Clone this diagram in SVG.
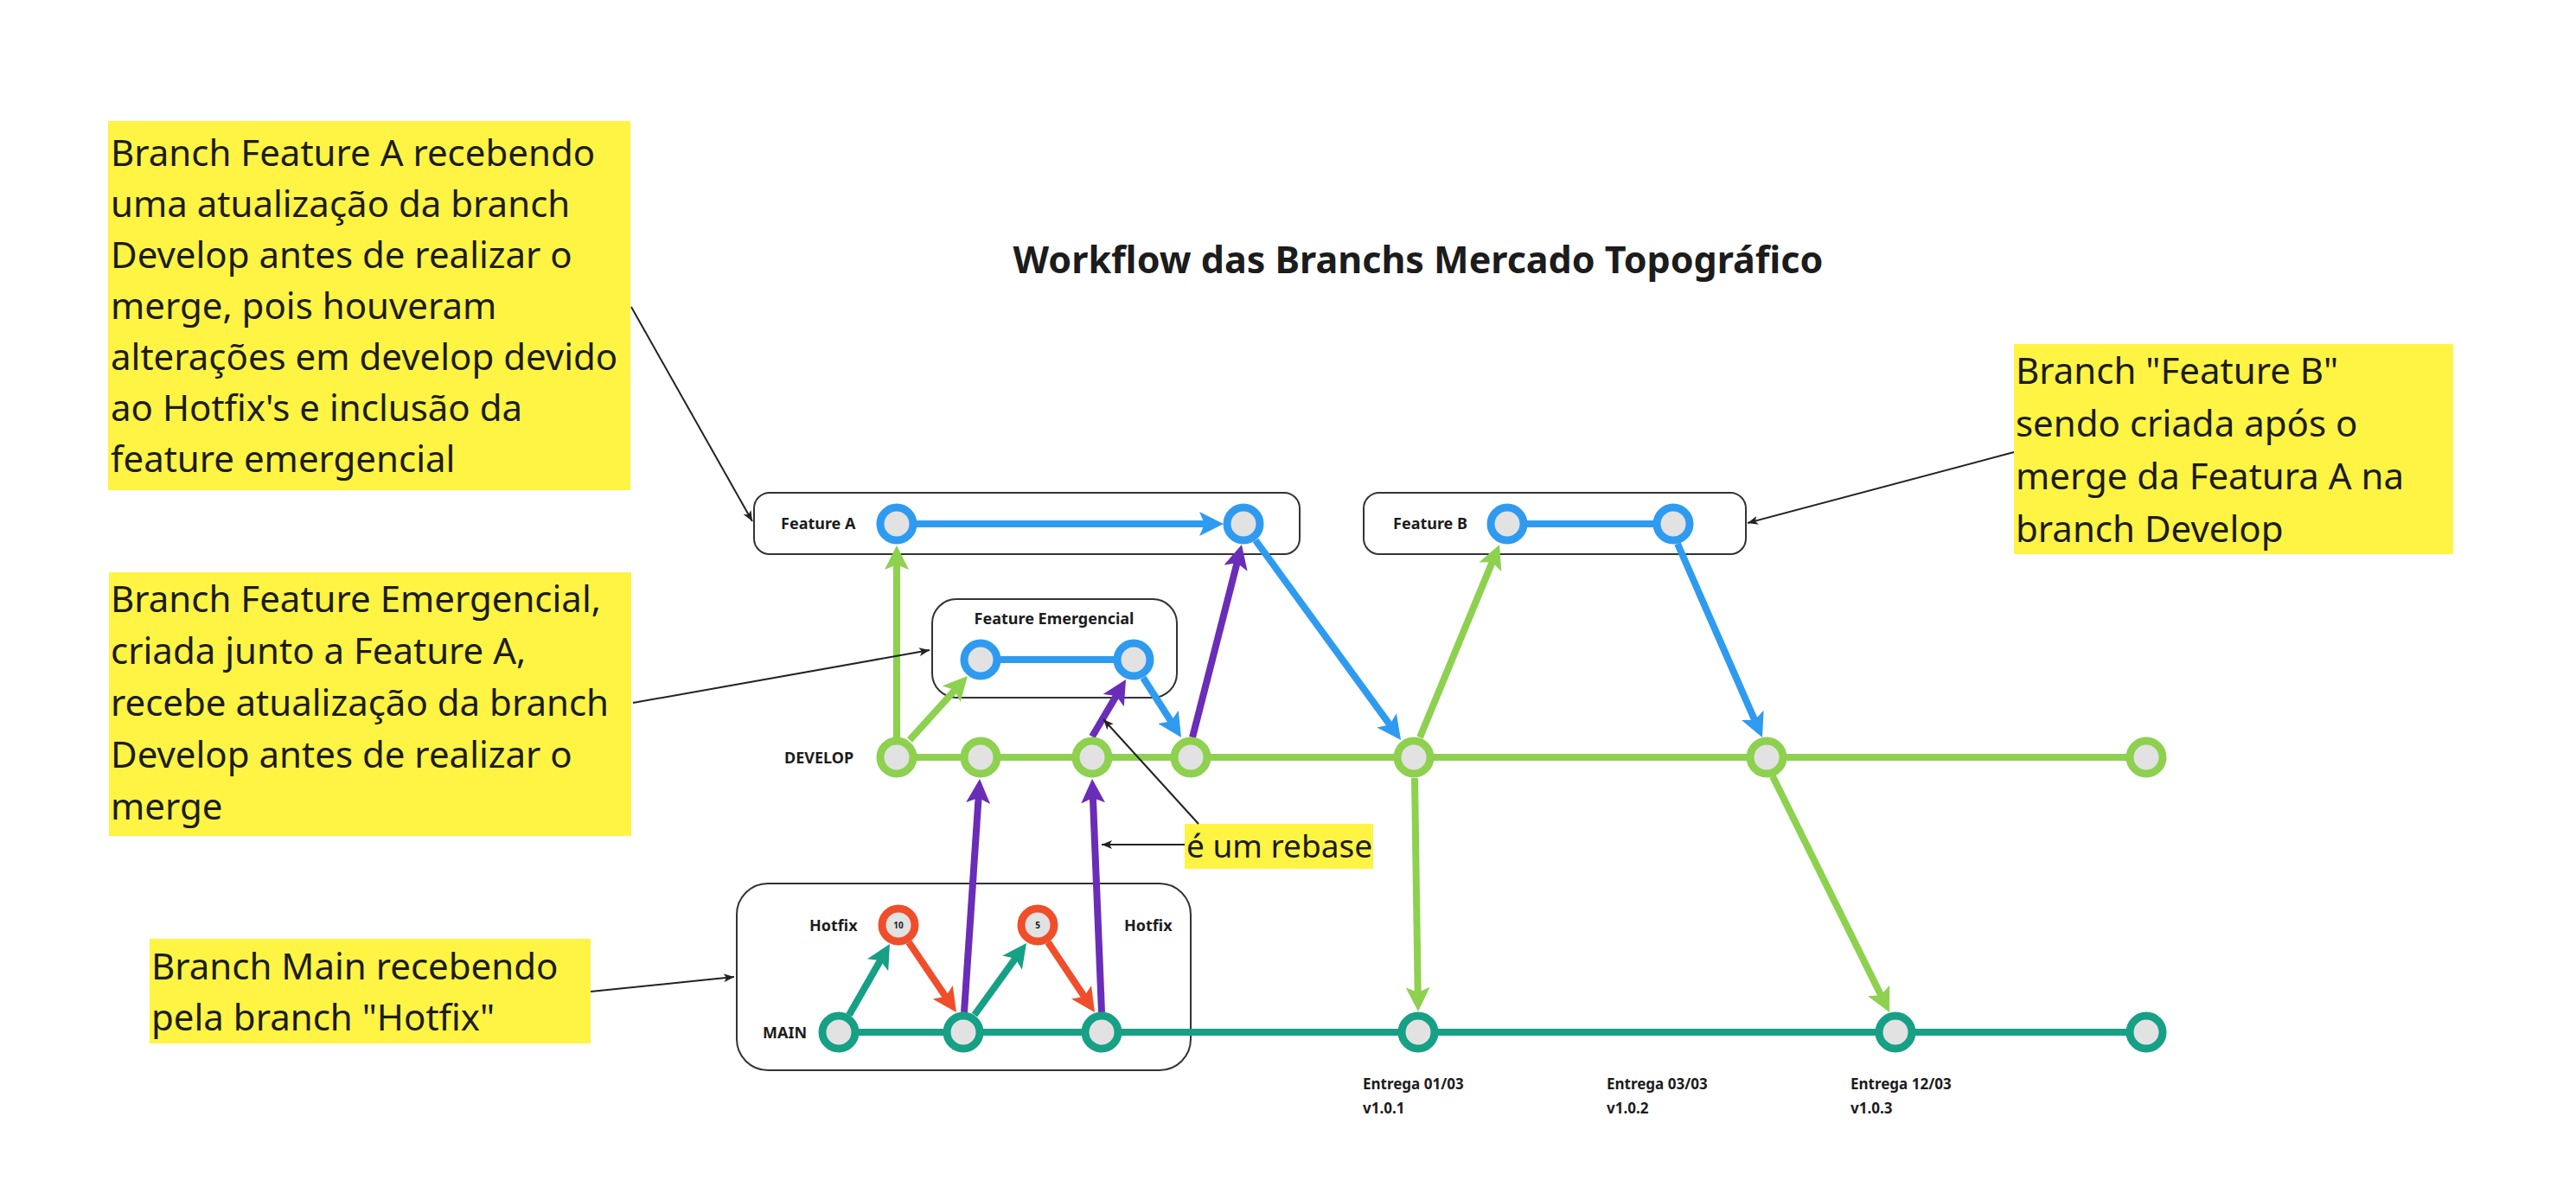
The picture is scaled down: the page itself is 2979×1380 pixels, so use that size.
<svg xmlns="http://www.w3.org/2000/svg" width="2979" height="1380" viewBox="0 0 2979 1380">
<style>
.bg{fill:#ffffff}
.note{fill:#FFF443}
.nt{font-family:"Noto Sans","Open Sans","Liberation Sans",sans-serif;font-size:42px;fill:#1c1c1c}
.title{font-family:"Noto Sans","Open Sans","Liberation Sans",sans-serif;font-size:43px;font-weight:700;fill:#1c1c1c}
.lbl{font-family:"Noto Sans","Open Sans","Liberation Sans",sans-serif;font-size:18px;font-weight:700;fill:#1c1c1c}
.rel{font-family:"Noto Sans","Open Sans","Liberation Sans",sans-serif;font-size:17px;font-weight:700;fill:#1c1c1c}
.num{font-family:"Noto Sans","Liberation Sans",sans-serif;font-size:10px;font-weight:700;fill:#1c1c1c}
.box{fill:#ffffff;stroke:#333333;stroke-width:2}
.c{fill:none;stroke-width:8;stroke-linecap:butt}
.g{stroke:#8DD14F}
.b{stroke:#2E9BF0}
.p{stroke:#6A2DB8}
.t{stroke:#16A085}
.r{stroke:#F04E2B}
.lead{fill:none;stroke:#222222;stroke-width:2}
.n{fill:#E2E2E2;stroke-width:9}
.ng{stroke:#8DD14F}
.nb{stroke:#2E9BF0}
.nt2{stroke:#16A085}
.nr{stroke:#F04E2B}
</style>
<defs>
<marker id="ag" viewBox="0 0 28 28" refX="14" refY="14" markerWidth="28" markerHeight="28" markerUnits="userSpaceOnUse" orient="auto"><path d="M0,0 L28,14 L0,28 L6,14 Z" fill="#8DD14F"/></marker>
<marker id="ab" viewBox="0 0 28 28" refX="14" refY="14" markerWidth="28" markerHeight="28" markerUnits="userSpaceOnUse" orient="auto"><path d="M0,0 L28,14 L0,28 L6,14 Z" fill="#2E9BF0"/></marker>
<marker id="ap" viewBox="0 0 28 28" refX="14" refY="14" markerWidth="28" markerHeight="28" markerUnits="userSpaceOnUse" orient="auto"><path d="M0,0 L28,14 L0,28 L6,14 Z" fill="#6A2DB8"/></marker>
<marker id="at" viewBox="0 0 28 28" refX="14" refY="14" markerWidth="28" markerHeight="28" markerUnits="userSpaceOnUse" orient="auto"><path d="M0,0 L28,14 L0,28 L6,14 Z" fill="#16A085"/></marker>
<marker id="ar" viewBox="0 0 28 28" refX="14" refY="14" markerWidth="28" markerHeight="28" markerUnits="userSpaceOnUse" orient="auto"><path d="M0,0 L28,14 L0,28 L6,14 Z" fill="#F04E2B"/></marker>
<marker id="ak" viewBox="0 0 12 10" refX="12" refY="5" markerWidth="12" markerHeight="10" markerUnits="userSpaceOnUse" orient="auto"><path d="M0,0 L12,5 L0,10 L3,5 Z" fill="#222222"/></marker>
</defs>
<rect class="bg" x="0" y="0" width="2979" height="1380"/>

<g id="title"><text class="title" x="1640" y="316" text-anchor="middle">Workflow das Branchs Mercado Topográfico</text></g>

<g id="note-feature-a">
<rect class="note" x="125" y="140" width="604" height="427"/>
<text class="nt" x="128" y="192">Branch Feature A recebendo</text>
<text class="nt" x="128" y="251">uma atualização da branch</text>
<text class="nt" x="128" y="310">Develop antes de realizar o</text>
<text class="nt" x="128" y="369">merge, pois houveram</text>
<text class="nt" x="128" y="428">alterações em develop devido</text>
<text class="nt" x="128" y="487">ao Hotfix's e inclusão da</text>
<text class="nt" x="128" y="546">feature emergencial</text>
</g>
<g id="note-feature-emergencial">
<rect class="note" x="126" y="662" width="604" height="305"/>
<text class="nt" x="128" y="708">Branch Feature Emergencial,</text>
<text class="nt" x="128" y="768">criada junto a Feature A,</text>
<text class="nt" x="128" y="828">recebe atualização da branch</text>
<text class="nt" x="128" y="888">Develop antes de realizar o</text>
<text class="nt" x="128" y="948">merge</text>
</g>
<g id="note-main">
<rect class="note" x="173" y="1086" width="510" height="121"/>
<text class="nt" x="175" y="1133">Branch Main recebendo</text>
<text class="nt" x="175" y="1192">pela branch "Hotfix"</text>
</g>
<g id="note-feature-b">
<rect class="note" x="2329" y="398" width="508" height="243"/>
<text class="nt" x="2331" y="444">Branch "Feature B"</text>
<text class="nt" x="2331" y="505">sendo criada após o</text>
<text class="nt" x="2331" y="566">merge da Featura A na</text>
<text class="nt" x="2331" y="627">branch Develop</text>
</g>
<g id="note-rebase">
<rect class="note" x="1370" y="953" width="218" height="52"/>
<text class="nt" x="1372" y="992" style="font-size:37px">é um rebase</text>
</g>

<g id="branch-feature-a">
<rect class="box" x="872" y="570" width="631" height="71" rx="18"/>
<text class="lbl" x="903" y="612">Feature A</text>
</g>
<g id="branch-feature-b">
<rect class="box" x="1577" y="570" width="442" height="71" rx="18"/>
<text class="lbl" x="1611" y="612">Feature B</text>
</g>
<g id="branch-feature-emergencial">
<rect class="box" x="1078" y="693" width="283" height="114" rx="28"/>
<text class="lbl" x="1219" y="722" text-anchor="middle">Feature Emergencial</text>
</g>
<g id="branch-main-hotfix">
<rect class="box" x="852" y="1022" width="525" height="216" rx="36"/>
<text class="lbl" x="936" y="1077">Hotfix</text>
<text class="lbl" x="1300" y="1077">Hotfix</text>
<text class="lbl" x="882" y="1201">MAIN</text>
</g>
<g id="label-develop"><text class="lbl" x="907" y="883">DEVELOP</text></g>
<g id="release-labels">
<text class="rel" x="1576" y="1260">Entrega 01/03</text>
<text class="rel" x="1576" y="1288">v1.0.1</text>
<text class="rel" x="1858" y="1260">Entrega 03/03</text>
<text class="rel" x="1858" y="1288">v1.0.2</text>
<text class="rel" x="2140" y="1260">Entrega 12/03</text>
<text class="rel" x="2140" y="1288">v1.0.3</text>
</g>

<g id="connectors">
<line class="c g" x1="1037" y1="876" x2="2481" y2="876"/>
<line class="c t" x1="970" y1="1194" x2="2481" y2="1194"/>
<line class="c b" x1="1037" y1="606" x2="1401" y2="606" marker-end="url(#ab)"/>
<line class="c b" x1="1134" y1="763" x2="1311" y2="763"/>
<line class="c b" x1="1743" y1="606" x2="1935" y2="606"/>
<line class="c g" x1="1037" y1="853" x2="1037" y2="645" marker-end="url(#ag)"/>
<line class="c g" x1="1052" y1="856" x2="1109.6" y2="792.4" marker-end="url(#ag)"/>
<line class="c p" x1="1115" y1="1171" x2="1132.1" y2="915" marker-end="url(#ap)"/>
<line class="c p" x1="1274" y1="1171" x2="1263.6" y2="915" marker-end="url(#ap)"/>
<line class="c p" x1="1263" y1="852" x2="1294.9" y2="798.1" marker-end="url(#ap)"/>
<line class="c b" x1="1322" y1="784" x2="1358.5" y2="841.2" marker-end="url(#ab)"/>
<line class="c p" x1="1379" y1="853" x2="1432.5" y2="643.6" marker-end="url(#ap)"/>
<line class="c b" x1="1452" y1="625" x2="1611.8" y2="844.7" marker-end="url(#ab)"/>
<line class="c g" x1="1642" y1="853" x2="1728.7" y2="642.9" marker-end="url(#ag)"/>
<line class="c g" x1="1636" y1="900" x2="1639.8" y2="1156" marker-end="url(#ag)"/>
<line class="c b" x1="1940" y1="629" x2="2032.4" y2="840.2" marker-end="url(#ab)"/>
<line class="c g" x1="2050" y1="898" x2="2178.8" y2="1158.5" marker-end="url(#ag)"/>
<line class="c t" x1="982" y1="1174" x2="1022" y2="1104.1" marker-end="url(#at)"/>
<line class="c r" x1="1051" y1="1090" x2="1098.1" y2="1159.4" marker-end="url(#ar)"/>
<line class="c t" x1="1127" y1="1174" x2="1178.8" y2="1102.3" marker-end="url(#at)"/>
<line class="c r" x1="1212" y1="1090" x2="1258.2" y2="1159.3" marker-end="url(#ar)"/>
<line class="lead" x1="730" y1="355" x2="870" y2="603" marker-end="url(#ak)"/>
<line class="lead" x1="732" y1="813" x2="1075" y2="752" marker-end="url(#ak)"/>
<line class="lead" x1="683" y1="1147" x2="849" y2="1130" marker-end="url(#ak)"/>
<line class="lead" x1="2329" y1="523" x2="2021" y2="605" marker-end="url(#ak)"/>
<line class="lead" x1="1386" y1="953" x2="1276" y2="832" marker-end="url(#ak)"/>
<line class="lead" x1="1370" y1="977" x2="1274" y2="977" marker-end="url(#ak)"/>
</g>

<g id="nodes">
<g id="feature-a-1"><circle class="n nb" cx="1037" cy="606" r="19"/></g>
<g id="feature-a-2"><circle class="n nb" cx="1438" cy="606" r="19"/></g>
<g id="feature-b-1"><circle class="n nb" cx="1743" cy="606" r="19"/></g>
<g id="feature-b-2"><circle class="n nb" cx="1935" cy="606" r="19"/></g>
<g id="feature-em-1"><circle class="n nb" cx="1134" cy="763" r="19"/></g>
<g id="feature-em-2"><circle class="n nb" cx="1311" cy="763" r="19"/></g>
<g id="develop-1"><circle class="n ng" cx="1037" cy="876" r="19"/></g>
<g id="develop-2"><circle class="n ng" cx="1134" cy="876" r="19"/></g>
<g id="develop-3"><circle class="n ng" cx="1263" cy="876" r="19"/></g>
<g id="develop-4"><circle class="n ng" cx="1377" cy="876" r="19"/></g>
<g id="develop-5"><circle class="n ng" cx="1635" cy="876" r="19"/></g>
<g id="develop-6"><circle class="n ng" cx="2043" cy="876" r="19"/></g>
<g id="develop-7"><circle class="n ng" cx="2482" cy="876" r="19"/></g>
<g id="hotfix-1"><circle class="n nr" cx="1039" cy="1070" r="19"/><text class="num" x="1039" y="1074" text-anchor="middle">10</text></g>
<g id="hotfix-2"><circle class="n nr" cx="1200" cy="1070" r="19"/><text class="num" x="1200" y="1074" text-anchor="middle">5</text></g>
<g id="main-1"><circle class="n nt2" cx="970" cy="1194" r="19"/></g>
<g id="main-2"><circle class="n nt2" cx="1114" cy="1194" r="19"/></g>
<g id="main-3"><circle class="n nt2" cx="1274" cy="1194" r="19"/></g>
<g id="main-4"><circle class="n nt2" cx="1640" cy="1194" r="19"/></g>
<g id="main-5"><circle class="n nt2" cx="2192" cy="1194" r="19"/></g>
<g id="main-6"><circle class="n nt2" cx="2482" cy="1194" r="19"/></g>
</g>
</svg>
